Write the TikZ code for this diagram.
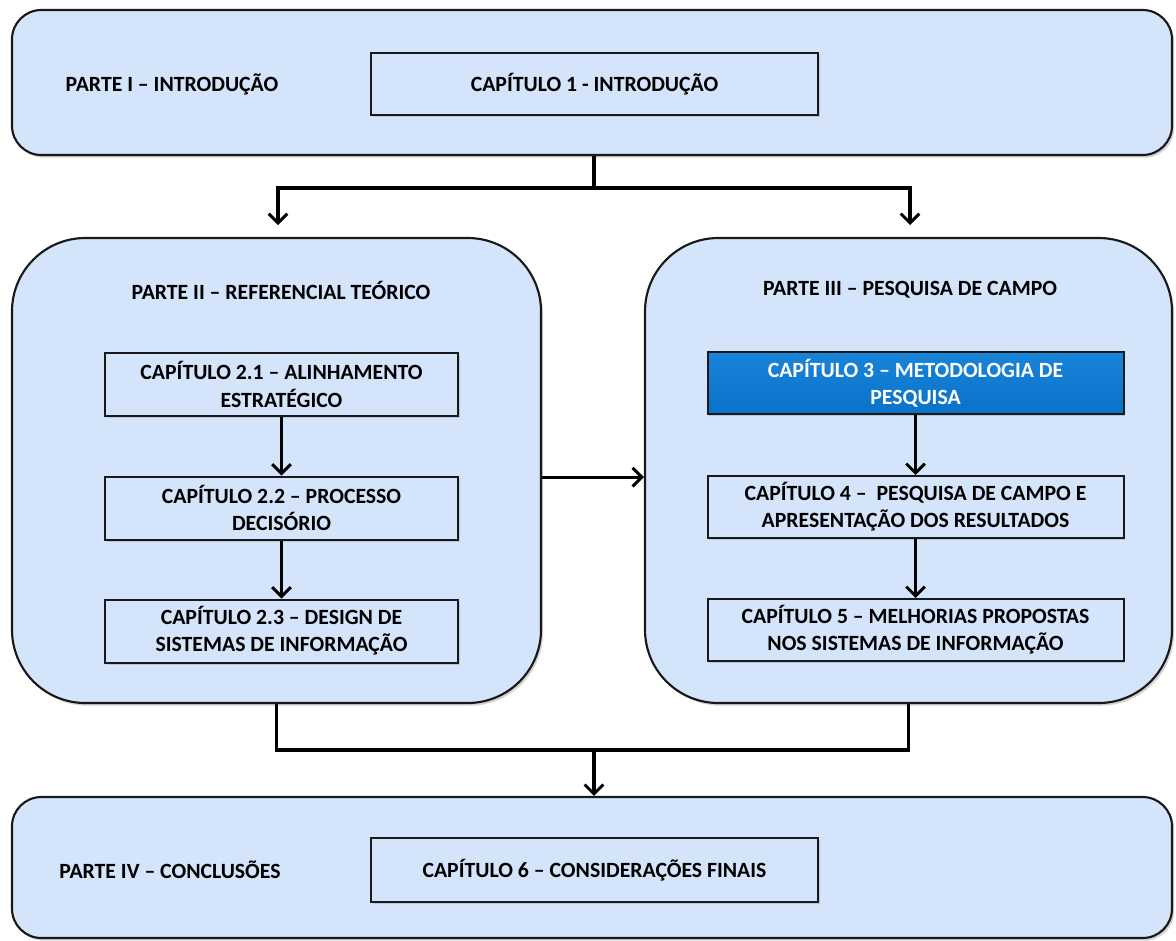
\documentclass[tikz,border=0pt]{standalone}
\usepackage{fontspec}
\setmainfont{Carlito}
\usetikzlibrary{arrows.meta,shadows}
\definecolor{partfill}{RGB}{212,228,250}
\definecolor{edge}{RGB}{25,25,25}
\definecolor{hiblue}{RGB}{10,114,201}
\definecolor{hibluetop}{RGB}{24,132,216}
\begin{document}
\begin{tikzpicture}[x=0.75pt,y=-0.75pt,
  txt/.style={font=\fontsize{16.3}{20.5}\selectfont\bfseries, text=black, align=center},
  partbox/.style={draw=edge, line width=1.6pt, fill=partfill, inner sep=0pt,
    drop shadow={shadow xshift=1.6pt, shadow yshift=-2pt, opacity=0.35}},
  chapbox/.style={txt, draw=edge, line width=1.5pt, fill=partfill, inner sep=0pt,
    drop shadow={shadow xshift=1.2pt, shadow yshift=-1.5pt, opacity=0.3}},
  hibox/.style={chapbox, top color=hibluetop, bottom color=hiblue, text=white},
  link/.style={draw=black, line width=2.4pt},
  arr/.style={link, -{Straight Barb[length=7pt,width=14pt,line width=2.2pt]}}]
\useasboundingbox (0,0) rectangle (1176,940);

% the four parts
\node[partbox, rounded corners=22pt, minimum width=870pt, minimum height=108.75pt] (T) at (592,82.5) {};
\node[partbox, rounded corners=55pt, minimum width=396.75pt, minimum height=348.75pt] (L) at (276.5,470.5) {};
\node[partbox, rounded corners=55pt, minimum width=395.25pt, minimum height=348.75pt] (R) at (908.5,470.5) {};
\node[partbox, rounded corners=22pt, minimum width=870pt, minimum height=105.75pt] (B) at (592,867.5) {};

% part titles
\node[txt] (tI) at (172,84) {PARTE I – INTRODUÇÃO};
\node[txt] (tII) at (281,290) {PARTE II – REFERENCIAL TEÓRICO};
\node[txt] (tIII) at (910,290) {PARTE III – PESQUISA DE CAMPO};
\node[txt] (tIV) at (170,870) {PARTE IV – CONCLUSÕES};

% chapters
\node[chapbox, minimum width=335.25pt, minimum height=46.5pt] (c1) at (594.5,84) {CAPÍTULO 1 - INTRODUÇÃO};
\node[chapbox, minimum width=264.75pt, minimum height=47.25pt] (c21) at (281.5,384.5) {CAPÍTULO 2.1 – ALINHAMENTO\\ESTRATÉGICO};
\node[chapbox, minimum width=264.75pt, minimum height=47.25pt] (c22) at (281.5,508) {CAPÍTULO 2.2 – PROCESSO\\DECISÓRIO};
\node[chapbox, minimum width=264.75pt, minimum height=47.25pt] (c23) at (281.5,631) {CAPÍTULO 2.3 – DESIGN DE\\SISTEMAS DE INFORMAÇÃO};
\node[hibox, minimum width=312pt, minimum height=46.5pt] (c3) at (915.5,383) {CAPÍTULO 3 – METODOLOGIA DE\\PESQUISA};
\node[chapbox, minimum width=312pt, minimum height=46.5pt] (c4) at (915.5,507) {CAPÍTULO 4 –~~PESQUISA DE CAMPO E\\APRESENTAÇÃO DOS RESULTADOS};
\node[chapbox, minimum width=312pt, minimum height=46.5pt] (c5) at (915.5,630) {CAPÍTULO 5 – MELHORIAS PROPOSTAS\\NOS SISTEMAS DE INFORMAÇÃO};
\node[chapbox, minimum width=335.25pt, minimum height=48pt] (c6) at (594.5,870) {CAPÍTULO 6 – CONSIDERAÇÕES FINAIS};

% connectors
\coordinate (j1) at (594,188);
\coordinate (j2) at (594,750);
\coordinate (aL) at (278,225);
\coordinate (aR) at (910,225);
\draw[link] (j1 |- T.south) -- (j1);
\draw[arr] (j1) -| (aL);
\draw[arr] (j1) -| (aR);
\draw[arr] ([yshift=-5pt]L.east) -- ([yshift=-5pt]R.west);
\draw[arr] (c21) -- (c22);
\draw[arr] (c22) -- (c23);
\draw[arr] (c3) -- (c4);
\draw[arr] (c4) -- (c5);
\draw[link] (L.south) |- (j2) -| (R.south);
\draw[arr] (j2) -- (j2 |- B.north);
\end{tikzpicture}
\end{document}
